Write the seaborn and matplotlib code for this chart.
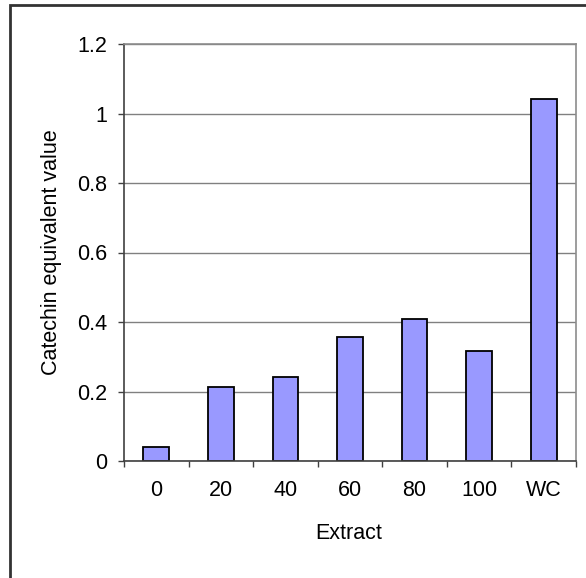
import matplotlib
matplotlib.use('Agg')
import matplotlib.pyplot as plt
import seaborn as sns
import pandas as pd
from matplotlib.ticker import FixedLocator, FuncFormatter

# catechin equivalent value per extract
extracts = ['0', '20', '40', '60', '80', '100', 'WC']
values = [0.040, 0.213, 0.242, 0.358, 0.409, 0.317, 1.041]
y_ticks = [0, 0.2, 0.4, 0.6, 0.8, 1.0, 1.2]

sns.set_theme(style='white')
plt.rcParams['font.family'] = ['Liberation Sans', 'DejaVu Sans']

FS = 15.5
W, H = 586, 578
fig = plt.figure(figsize=(W / 100, H / 100), dpi=100)
fig.patch.set_facecolor('white')
ax = fig.add_axes([124 / W, 1 - 461 / H, (576 - 124) / W, (461 - 44) / H])

df = pd.DataFrame({'Extract': extracts, 'value': values})
sns.barplot(data=df, x='Extract', y='value', order=extracts, color='#9999ff',
            saturation=1, edgecolor='black', linewidth=1.3, width=0.4, ax=ax)

ax.set_xlim(-0.5, len(extracts) - 0.5)
ax.set_ylim(0, 1.2)
ax.set_yticks(y_ticks)
ax.yaxis.set_major_formatter(FuncFormatter(lambda v, p: '%g' % v))
ax.yaxis.grid(True, color='#808080', linewidth=1.0)
ax.set_axisbelow(True)

# ticks between categories, labels centred on bars
ax.xaxis.set_minor_locator(FixedLocator([i - 0.5 for i in range(len(extracts) + 1)]))
ax.tick_params(axis='x', which='major', length=0, pad=13.5, labelsize=FS, colors='black')
ax.tick_params(axis='x', which='minor', bottom=True, direction='out', length=4.3,
               width=1.0, color='#404040')
ax.tick_params(axis='y', which='major', left=True, direction='out', length=4.3,
               width=1.0, color='#404040', pad=7.9, labelsize=FS, labelcolor='black')

for side in ['left', 'bottom']:
    ax.spines[side].set_color('#404040')
    ax.spines[side].set_linewidth(1.2)
for side in ['top', 'right']:
    ax.spines[side].set_color('#8c8c8c')
    ax.spines[side].set_linewidth(1.2)

ax.set_xlabel('')
ax.set_ylabel('')
fig.text(349 / W, 1 - 539 / H, 'Extract', ha='center', va='baseline',
         fontsize=FS, color='black')
fig.text(57 / W, 1 - 252.5 / H, 'Catechin equivalent value', rotation=90,
         rotation_mode='anchor', ha='center', va='baseline', fontsize=FS, color='black')

# outer chart border, cut off at right and bottom
fig.add_artist(plt.Rectangle((10 / W, -0.1), 1.0, 1 - 5 / H + 0.1,
                             transform=fig.transFigure, fill=False,
                             edgecolor='#333333', linewidth=2))

fig.savefig('out.png', dpi=100)
